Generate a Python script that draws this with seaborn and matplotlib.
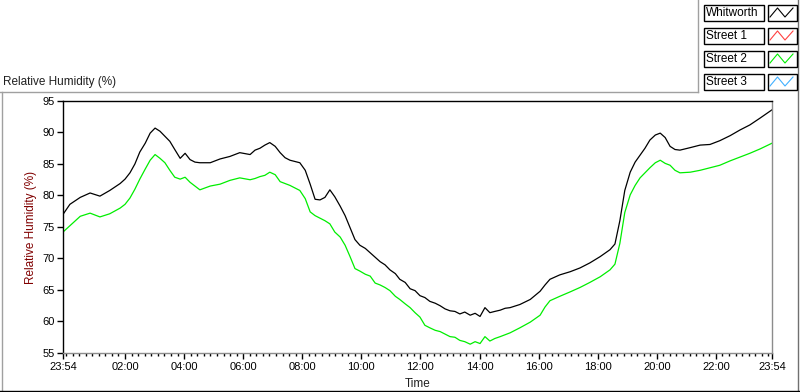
import matplotlib
matplotlib.use("Agg")
import matplotlib.pyplot as plt
import numpy as np
import pandas as pd
import seaborn as sns
from matplotlib.patches import Rectangle
from matplotlib.lines import Line2D

# ---------------- data (minutes after 23:54 start) ----------------
minutes = [0, 14, 35, 55, 75, 95, 116, 126, 136, 146, 156, 167, 177, 187, 197, 207, 217, 227,
           238, 248, 258, 268, 278, 299, 319, 339, 359, 380, 390, 400, 410, 420, 431, 441, 451,
           461, 481, 492, 502, 512, 522, 532, 542, 552, 563, 573, 583, 593, 603, 614, 624, 634,
           644, 654, 664, 675, 684, 695, 705, 715, 725, 735, 745, 756, 766, 776, 786, 796, 806,
           816, 827, 837, 847, 857, 867, 877, 888, 898, 908, 928, 949, 969, 979, 989, 1009, 1030,
           1050, 1070, 1091, 1111, 1121, 1131, 1141, 1152, 1162, 1172, 1182, 1192, 1203, 1213,
           1223, 1233, 1243, 1253, 1274, 1294, 1314, 1334, 1355, 1375, 1395, 1416, 1440]

whitworth = [77.0, 78.6, 79.7, 80.4, 79.9, 80.8, 81.9, 82.6, 83.6, 85.0, 86.9, 88.3, 89.9, 90.7,
             90.2, 89.4, 88.6, 87.3, 85.9, 86.7, 85.7, 85.3, 85.2, 85.2, 85.8, 86.2, 86.8, 86.5,
             87.2, 87.5, 88.0, 88.4, 87.8, 86.8, 86.0, 85.6, 85.2, 84.0, 81.8, 79.4, 79.3, 79.7,
             80.9, 79.8, 78.3, 76.8, 74.9, 73.0, 72.1, 71.6, 70.9, 70.2, 69.5, 69.0, 68.2, 67.6,
             66.7, 66.2, 65.2, 64.9, 64.1, 63.8, 63.2, 62.9, 62.5, 62.0, 61.7, 61.6, 61.2, 61.5,
             61.0, 61.3, 60.8, 62.2, 61.4, 61.6, 61.8, 62.1, 62.2, 62.7, 63.5, 64.8, 65.8, 66.7,
             67.4, 67.9, 68.5, 69.3, 70.3, 71.4, 72.3, 76.0, 80.8, 83.7, 85.3, 86.4, 87.5, 88.8,
             89.6, 89.9, 89.2, 87.8, 87.3, 87.2, 87.6, 88.0, 88.1, 88.7, 89.5, 90.4, 91.2, 92.3,
             93.6]

street2 = [74.2, 75.2, 76.7, 77.2, 76.6, 77.1, 78.0, 78.6, 79.6, 81.0, 82.6, 84.2, 85.6, 86.5,
           85.9, 85.2, 84.0, 82.9, 82.6, 82.9, 82.1, 81.5, 80.9, 81.5, 81.8, 82.4, 82.8, 82.5,
           82.7, 83.0, 83.2, 83.7, 83.3, 82.2, 81.9, 81.6, 80.8, 79.5, 77.4, 76.8, 76.4, 76.0,
           75.5, 74.2, 73.4, 72.1, 70.3, 68.4, 68.0, 67.5, 67.2, 66.1, 65.8, 65.4, 64.9, 64.0,
           63.5, 62.8, 62.2, 61.4, 60.7, 59.4, 59.0, 58.6, 58.4, 58.0, 57.6, 57.5, 57.0, 56.8,
           56.4, 56.8, 56.5, 57.6, 56.9, 57.3, 57.6, 57.9, 58.2, 59.0, 59.9, 61.0, 62.3, 63.3,
           64.0, 64.7, 65.4, 66.2, 67.1, 68.2, 69.1, 72.4, 77.3, 80.1, 81.6, 82.8, 83.6, 84.4,
           85.2, 85.6, 85.1, 84.8, 84.0, 83.6, 83.7, 84.0, 84.4, 84.8, 85.5, 86.1, 86.7, 87.4,
           88.3]

series_names = ["Whitworth", "Street 1", "Street 2", "Street 3"]
series_colors = ["#000000", "#ff4040", "#00ee00", "#40b0ff"]

tick_minutes = [0, 126, 246, 366, 486, 606, 726, 846, 966, 1086, 1206, 1326, 1440]
tick_labels = ["23:54", "02:00", "04:00", "06:00", "08:00", "10:00", "12:00",
               "14:00", "16:00", "18:00", "20:00", "22:00", "23:54"]
y_ticks = [55, 60, 65, 70, 75, 80, 85, 90, 95]

# ---------------- figure ----------------
plt.rcParams['font.family'] = ['Liberation Sans', 'DejaVu Sans']
W, H = 800, 392
fig = plt.figure(figsize=(W / 100, H / 100), dpi=100)
fig.patch.set_facecolor("white")

ax = fig.add_axes([63 / W, 39 / H, 709 / W, 252 / H])

n = len(minutes)
df = pd.DataFrame({
    "minutes": minutes * 2,
    "rh": whitworth + street2,
    "series": ["Whitworth"] * n + ["Street 2"] * n,
})
palette = dict(zip(series_names, series_colors))
sns.lineplot(data=df, x="minutes", y="rh", hue="series", palette=palette,
             estimator=None, sort=False, linewidth=0.9, legend=False, ax=ax)

ax.set_xlim(0, 1440)
ax.set_ylim(55, 95)
ax.set_xlabel("")
ax.set_ylabel("")
ax.set_xticks(tick_minutes)
ax.set_xticklabels(tick_labels)
ax.set_xticks(np.arange(6, 1440, 120 / 9), minor=True)
ax.set_yticks(y_ticks)
ax.tick_params(axis="both", which="major", labelsize=8, length=4, width=1,
               direction="out", color="black", pad=2)
ax.tick_params(axis="x", which="minor", length=2.5, width=1, color="black")
ax.tick_params(axis="x", which="major", length=4.5)
for s in ["top", "left"]:
    ax.spines[s].set_color("black")
    ax.spines[s].set_linewidth(1)
for s in ["right", "bottom"]:
    ax.spines[s].set_color("#8c8c8c")
    ax.spines[s].set_linewidth(1)

# ---------------- texts ----------------
fig.text(3 / W, 1 - 82 / H, "Relative Humidity (%)", ha="left", va="center",
         fontsize=8.5, color="#202020")
fig.text(31 / W, 1 - 227 / H, "Relative Humidity (%)", ha="center", va="center",
         rotation=90, fontsize=8.5, color="#800000")
fig.text(418 / W, 1 - 384 / H, "Time", ha="center", va="center", fontsize=8.5,
         color="#202020")

# ---------------- frame + legend panel (pixel overlay) ----------------
ov = fig.add_axes([0, 0, 1, 1], zorder=-1)
ov.set_xlim(0, W)
ov.set_ylim(H, 0)
ov.axis("off")
ov.patch.set_alpha(0)
frame_c = "#a0a0a0"
ov.add_line(Line2D([0, 698], [92, 92], color=frame_c, lw=1))
ov.add_line(Line2D([698, 698], [0, 92], color=frame_c, lw=1))
ov.add_line(Line2D([1.5, 1.5], [92, 391], color=frame_c, lw=1))
ov.add_line(Line2D([797.5, 797.5], [0, 391], color="#707070", lw=1))
ov.add_line(Line2D([0, W], [390.5, 390.5], color="black", lw=1))

ov2 = fig.add_axes([0, 0, 1, 1], zorder=5)
ov2.set_xlim(0, W)
ov2.set_ylim(H, 0)
ov2.axis("off")
ov2.patch.set_alpha(0)
row_top = [4, 27, 50, 73]
for name, col, top in zip(series_names, series_colors, row_top):
    ov2.add_patch(Rectangle((703.5, top + 0.5), 60, 16, fill=False, ec="black", lw=1))
    ov2.text(706, top + 9, name, ha="left", va="center", fontsize=8.5, color="black")
    ov2.add_patch(Rectangle((767.5, top + 0.5), 29, 16, fill=False, ec="black", lw=1))
    ov2.add_line(Line2D([770, 777.5, 785, 793], [top + 13, top + 4, top + 13, top + 4],
                        color=col, lw=0.8))

fig.savefig("out.png", dpi=100, facecolor="white")
